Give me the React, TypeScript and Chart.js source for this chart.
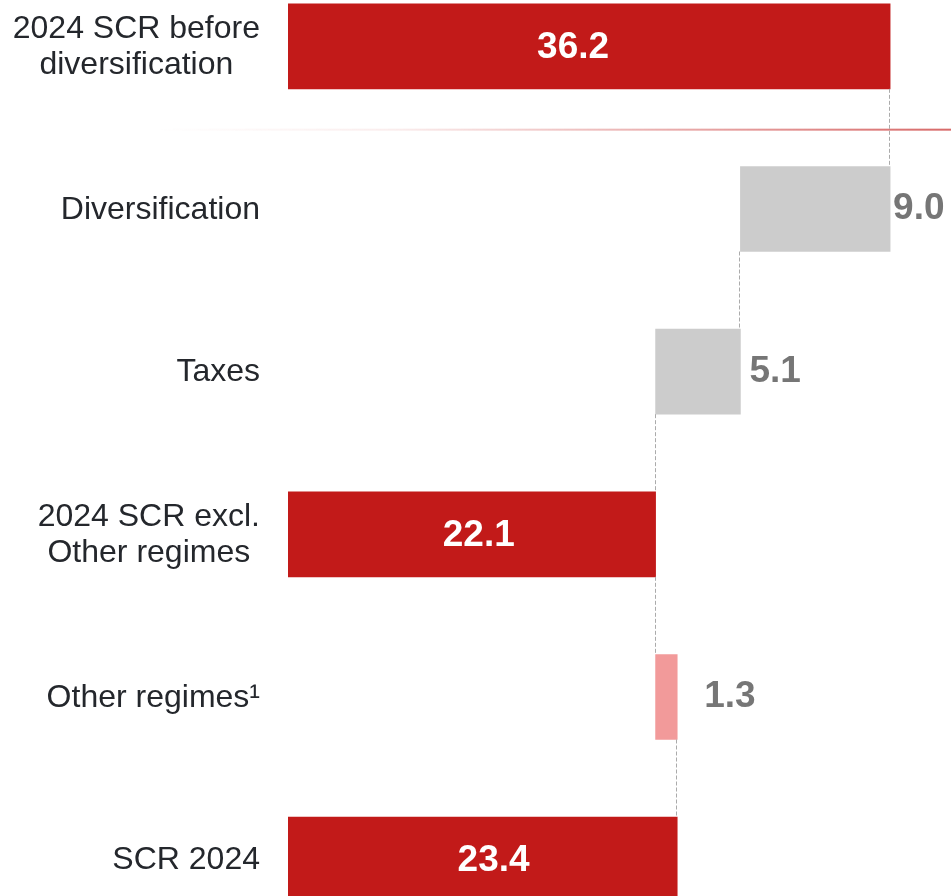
import React, { useEffect, useRef } from "react";
import { Chart, registerables } from "chart.js";

Chart.register(...registerables);

// ---- data ----
const categories: string[][] = [
  ["2024 SCR before", "diversification"],
  ["Diversification"],
  ["Taxes"],
  ["2024 SCR excl.", "Other regimes"],
  ["Other regimes\u00B9"],
  ["SCR 2024"],
];
const values: number[] = [36.2, -9.0, -5.1, 22.1, 1.3, 23.4];
const isTotal: boolean[] = [true, false, false, true, false, true];
const valueLabels: string[] = ["36.2", "9.0", "5.1", "22.1", "1.3", "23.4"];
const barColors: string[] = ["#C21A19", "#CCCCCC", "#CCCCCC", "#C21A19", "#F29A9A", "#C21A19"];
const labelShift: number[] = [-16, 3, 9, 7, 27, 11];
const xMin = 0;
const xMax = 39.8;

// build floating ranges from the values
const ranges: [number, number][] = [];
const runningAfter: number[] = [];
{
  let running = 0;
  values.forEach((v, i) => {
    if (isTotal[i]) {
      ranges.push([0, v]);
      running = v;
    } else {
      const a = running;
      const b = running + v;
      ranges.push([Math.min(a, b), Math.max(a, b)]);
      running = b;
    }
    runningAfter.push(running);
  });
}

const FONT = '"Liberation Sans", Arial, sans-serif';
const BAR_T = 85;

const overlayPlugin = {
  id: "waterfallOverlay",
  afterDatasetsDraw(chart: any) {
    const ctx: CanvasRenderingContext2D = chart.ctx;
    const xs = chart.scales.x;
    const ys = chart.scales.y;
    const w = chart.width;
    ctx.save();

    // separator line between first and second rows
    const ySep = (ys.getPixelForValue(0) + ys.getPixelForValue(1)) / 2 + 2;
    const grad = ctx.createLinearGradient(155, 0, w, 0);
    grad.addColorStop(0, "rgba(194,26,25,0)");
    grad.addColorStop(0.3, "rgba(194,26,25,0.08)");
    grad.addColorStop(1, "rgba(194,26,25,0.65)");
    ctx.fillStyle = grad;
    ctx.fillRect(155, ySep - 1, w - 155, 2);

    // dashed connectors
    ctx.strokeStyle = "#ABABAB";
    ctx.lineWidth = 1;
    ctx.setLineDash([4, 2]);
    for (let i = 0; i < values.length - 1; i++) {
      const x = Math.round(xs.getPixelForValue(runningAfter[i])) - 0.5;
      const y0 = ys.getPixelForValue(i) + BAR_T / 2;
      const y1 = ys.getPixelForValue(i + 1) - BAR_T / 2;
      ctx.beginPath();
      ctx.moveTo(x, y0);
      ctx.lineTo(x, y1);
      ctx.stroke();
    }
    ctx.setLineDash([]);

    // category labels (right-aligned blocks, centered lines)
    ctx.font = `32px ${FONT}`;
    ctx.fillStyle = "#24272C";
    ctx.textBaseline = "middle";
    ctx.textAlign = "center";
    const right = chart.chartArea.left - 28;
    const lh = 36;
    categories.forEach((lines, i) => {
      const yc = ys.getPixelForValue(i);
      const maxW = Math.max(...lines.map((l) => ctx.measureText(l).width));
      const cx = right - maxW / 2;
      lines.forEach((l, k) => {
        const y = yc - ((lines.length - 1) * lh) / 2 + k * lh;
        ctx.fillText(l, cx, y + 1);
      });
    });

    // value labels
    ctx.font = `bold 37px ${FONT}`;
    valueLabels.forEach((t, i) => {
      const yc = ys.getPixelForValue(i);
      const [a, b] = ranges[i];
      if (isTotal[i]) {
        ctx.fillStyle = "#FFFFFF";
        ctx.textAlign = "center";
        const cx = (xs.getPixelForValue(a) + xs.getPixelForValue(b)) / 2 + labelShift[i];
        ctx.fillText(t, cx, yc + 1);
      } else {
        ctx.fillStyle = "#767676";
        ctx.textAlign = "left";
        ctx.fillText(t, xs.getPixelForValue(b) + labelShift[i], yc);
      }
    });

    ctx.restore();
  },
};

export default function App() {
  const ref = useRef<HTMLCanvasElement | null>(null);

  useEffect(() => {
    if (!ref.current) return;
    const chart = new Chart(ref.current, {
      type: "bar",
      data: {
        labels: categories.map((c) => c.join(" ")),
        datasets: [
          {
            data: ranges as any,
            backgroundColor: barColors,
            borderWidth: 0,
            borderSkipped: false,
            barThickness: BAR_T,
          },
        ],
      },
      options: {
        indexAxis: "y",
        responsive: false,
        animation: false,
        events: [],
        layout: { padding: { left: 288, right: 1, top: 0, bottom: 0 } },
        plugins: {
          legend: { display: false },
          tooltip: { enabled: false },
        },
        scales: {
          x: { type: "linear", min: xMin, max: xMax, display: false },
          y: { type: "category", display: false, offset: true },
        },
      },
      plugins: [overlayPlugin],
    });
    return () => chart.destroy();
  }, []);

  return (
    <div
      style={{
        position: "absolute",
        left: 0,
        top: 0,
        width: 951,
        height: 896,
        overflow: "hidden",
        background: "#FFFFFF",
      }}
    >
      <canvas
        ref={ref}
        width={951}
        height={976}
        style={{ position: "absolute", left: 0, top: -35, display: "block" }}
      />
    </div>
  );
}
